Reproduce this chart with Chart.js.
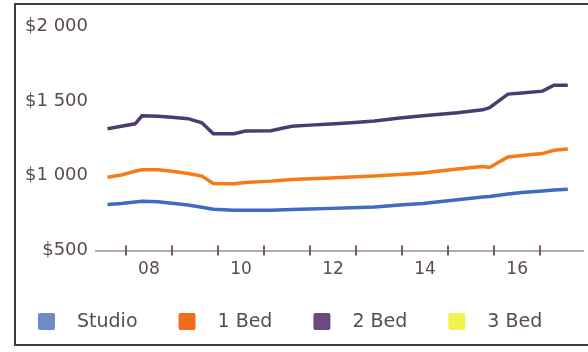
<!DOCTYPE html>
<html>
<head>
<meta charset="utf-8">
<script src="https://cdn.jsdelivr.net/npm/chart.js@4.4.1/dist/chart.umd.min.js"></script>
<style>
  html, body { margin: 0; padding: 0; background: #fff; }
  body { width: 588px; height: 352px; position: relative; overflow: hidden; }
  #frame { position: absolute; left: 14px; top: 3px; width: 600px; height: 339px; border: 2px solid #3d3d3d; border-right: none; }
  #chart { position: absolute; left: 0; top: 0; }
</style>
</head>
<body>
<div id="frame"></div>
<canvas id="chart" width="588" height="352"></canvas>
<script>
// rent by unit size (x = decimal year)
const years = [2007.6, 2007.9, 2008.2, 2008.35, 2008.7, 2009.0, 2009.35, 2009.65, 2009.9, 2010.35, 2010.6, 2011.15, 2011.6, 2012.0, 2012.45, 2012.9, 2013.4, 2013.95, 2014.45, 2015.2, 2015.75, 2015.9, 2016.3, 2016.6, 2017.05, 2017.3, 2017.6];
const studio = [808, 815, 825, 830, 826, 816, 805, 790, 776, 770, 770, 770, 775, 778, 782, 786, 792, 805, 815, 840, 858, 862, 878, 888, 898, 905, 910];
const oneBed = [990, 1005, 1030, 1040, 1040, 1030, 1015, 998, 948, 946, 955, 964, 975, 980, 985, 992, 998, 1008, 1018, 1045, 1062, 1055, 1125, 1135, 1148, 1170, 1178];
const twoBed = [1314, 1330, 1347, 1400, 1398, 1390, 1381, 1354, 1280, 1280, 1298, 1300, 1330, 1338, 1345, 1354, 1365, 1385, 1400, 1420, 1440, 1455, 1545, 1552, 1565, 1605, 1605];
const threeBed = [];

const seriesNames = ['Studio', '1 Bed', '2 Bed', '3 Bed'];
const lineColors = ['#3f6bc3', '#f47b16', '#4d3a70', '#eeee44'];
const legendColors = ['#6c8bcb', '#f26c1d', '#6b4a84', '#f2f24e'];

const yTicks = [500, 1000, 1500, 2000];
const yTickLabels = ['$500', '$1 000', '$1 500', '$2 000'];
const xLabelYears = [2008, 2010, 2012, 2014, 2016];
const xTickLabels = ['08', '10', '12', '14', '16'];
const yearMarks = [2008, 2009, 2010, 2011, 2012, 2013, 2014, 2015, 2016, 2017];

const textColor = '#5b4b4b';
const fontFamily = '"DejaVu Sans", sans-serif';

function toPoints(values) {
    return values.map((v, i) => ({ x: years[i], y: v }));
}

// small marks across the x axis line, one per year
const axisTicks = {
    id: 'axisTicks',
    beforeDatasetsDraw(chart) {
        const ctx = chart.ctx;
        const scale = chart.scales.x;
        const y = chart.chartArea.bottom;
        ctx.save();
        ctx.strokeStyle = '#6e6060';
        ctx.lineWidth = 2;
        yearMarks.forEach(v => {
            const px = Math.round(scale.getPixelForValue(v));
            ctx.beginPath();
            ctx.moveTo(px, y - 5);
            ctx.lineTo(px, y + 5);
            ctx.stroke();
        });
        ctx.restore();
    }
};

// legend row under the axis
const bottomLegend = {
    id: 'bottomLegend',
    afterDraw(chart) {
        const ctx = chart.ctx;
        ctx.save();
        ctx.font = '19px ' + fontFamily;
        ctx.textBaseline = 'middle';
        let x = 38;
        chart.data.datasets.forEach((ds, i) => {
            ctx.fillStyle = legendColors[i];
            ctx.beginPath();
            ctx.roundRect(x, 313, 17, 17, 2);
            ctx.fill();
            ctx.fillStyle = textColor;
            ctx.fillText(ds.label, x + 39, 322);
            x += 39 + ctx.measureText(ds.label).width + 41;
        });
        ctx.restore();
    }
};

const seriesValues = [studio, oneBed, twoBed, threeBed];

new Chart(document.getElementById('chart'), {
    type: 'line',
    data: {
        datasets: seriesValues.map((values, i) => ({
            label: seriesNames[i],
            data: toPoints(values),
            borderColor: lineColors[i],
            backgroundColor: legendColors[i],
            borderWidth: 3.5,
            pointRadius: 0,
            tension: 0,
            fill: false
        }))
    },
    options: {
        responsive: false,
        animation: false,
        layout: { padding: { left: 25, right: 5, top: 26, bottom: 71 } },
        plugins: {
            legend: { display: false },
            tooltip: { enabled: false }
        },
        scales: {
            x: {
                type: 'linear',
                min: 2007.35,
                max: 2017.93,
                afterBuildTicks: scale => {
                    scale.ticks = xLabelYears.map(v => ({ value: v + 0.5 }));
                },
                ticks: {
                    autoSkip: false,
                    maxRotation: 0,
                    padding: 1,
                    color: textColor,
                    font: { family: fontFamily, size: 17 },
                    callback: (value, index) => xTickLabels[index]
                },
                grid: { display: false },
                border: { display: true, color: '#b9a9a9', width: 2 }
            },
            y: {
                min: 500,
                max: 2000,
                afterBuildTicks: scale => {
                    scale.ticks = yTicks.map(v => ({ value: v }));
                },
                ticks: {
                    padding: 0,
                    color: textColor,
                    font: { family: fontFamily, size: 18 },
                    callback: (value, index) => yTickLabels[index]
                },
                grid: { display: false },
                border: { display: false }
            }
        }
    },
    plugins: [axisTicks, bottomLegend]
});
</script>
</body>
</html>
